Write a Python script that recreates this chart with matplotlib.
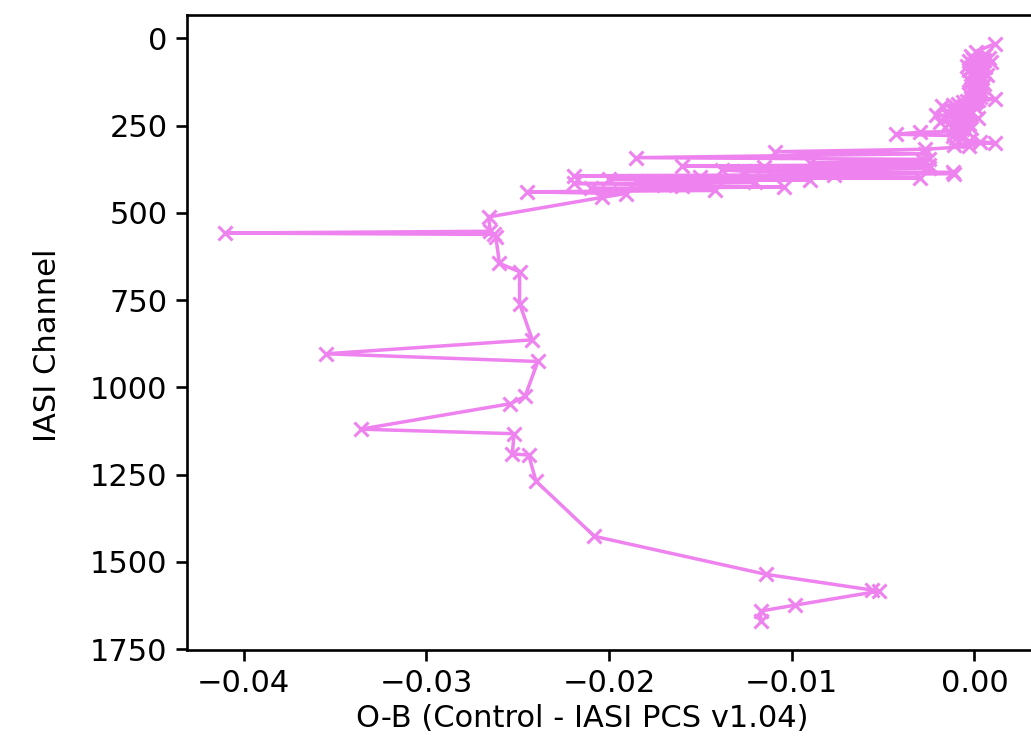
import matplotlib
matplotlib.use("Agg")
import matplotlib.pyplot as plt

# O-B departures per IASI channel
channels = [16, 38, 49, 51, 55, 57, 59, 61, 63, 66, 69, 72, 74, 79, 81, 83, 85, 87, 89, 92,
            95, 97, 99, 101, 104, 106, 109, 111, 113, 116, 119, 122, 126, 128, 131, 133, 135, 138,
            141, 144, 146, 148, 151, 154, 157, 159, 161, 163, 167, 170, 174, 176, 179, 180, 183,
            185, 187, 189, 191, 193, 195, 197, 199, 201, 203, 205, 207, 210, 212, 214, 217, 219,
            221, 224, 226, 228, 230, 232, 236, 239, 242, 243, 246, 249, 252, 254, 256, 258, 260,
            262, 265, 267, 269, 275, 279, 282, 285, 294, 296,
            300, 305, 310, 318, 325, 331, 342, 347, 352, 357, 362, 366, 369, 372, 377, 381, 384,
            388, 391, 394, 397, 400, 403, 406, 409, 413, 416, 420, 423, 426, 430, 436, 440, 445,
            456, 512, 553, 558, 562, 569, 645, 669, 760, 864, 904, 926, 1026, 1047, 1120, 1133,
            1191, 1194, 1269, 1427, 1536, 1581, 1584, 1624, 1641, 1670]
ob = [0.0011, 0.0001, 0.0006, -0.0002, 0.0004, 0.0008, -0.0001, 0.0003, 0.0005, -0.0003,
      0.0009, 0.0002, -0.0001, -0.0004, 0.0003, 0.0006, -0.0002, 0.0001, 0.0004, -0.0003,
      0.0002, 0.0005, 0.0000, -0.0002, 0.0003, 0.0007, 0.0001, -0.0001, 0.0004, 0.0002,
      -0.0003, 0.0001, -0.0002, 0.0003, 0.0005, 0.0000, -0.0001, 0.0002, 0.0004, -0.0002,
      0.0001, 0.0003, -0.0001, 0.0002, 0.0000, 0.0004, -0.0003, 0.0001, 0.0003, -0.0002,
      0.0011, 0.0002, -0.0004, 0.0001, -0.0006, 0.0000, -0.0009, -0.0003, -0.0012, -0.0018,
      -0.0005, -0.0010, 0.0001, -0.0007, -0.0013, -0.0004, -0.0009, -0.0002, -0.0011, -0.0006,
      -0.0015, -0.0008, -0.0021, -0.0004, -0.0010, 0.0002, -0.0007, -0.0012, -0.0005, -0.0019,
      -0.0009, -0.0014, -0.0003, -0.0008, -0.0012, -0.0006, -0.0010, -0.0002, -0.0007, -0.0011,
      -0.0004, -0.0009, -0.0030, -0.0043, -0.0012, -0.0006, -0.0010, -0.0003, 0.0003,
      0.0011, -0.0011, -0.0003, -0.0027, -0.0109, -0.0027, -0.0185, -0.0025, -0.0028, -0.0090,
      -0.0025, -0.0160, -0.0115, -0.0025, -0.0138, -0.0126, -0.0012, -0.0011, -0.0077, -0.0219,
      -0.0150, -0.0030, -0.0200, -0.0090, -0.0185, -0.0120, -0.0219, -0.0170, -0.0160, -0.0104,
      -0.0210, -0.0142, -0.0245, -0.0191, -0.0204, -0.0266, -0.0265, -0.0410, -0.0263, -0.0262,
      -0.0260, -0.0249, -0.0249, -0.0242, -0.0355, -0.0239, -0.0246, -0.0254, -0.0336, -0.0252,
      -0.0253, -0.0244, -0.0240, -0.0208, -0.0114, -0.0056, -0.0052, -0.0098, -0.0117, -0.0117]

plt.rcParams['font.size'] = 22

fig = plt.figure(figsize=(10.31, 7.45), dpi=100)
ax = fig.add_axes([187/1031, 95/745, 846/1031, 635/745])
ax.plot(ob, channels, color='violet', marker='x', linewidth=2.5,
        markersize=10, markeredgewidth=2.2)
ax.invert_yaxis()
ax.set_xlabel("O-B (Control - IASI PCS v1.04)")
ax.set_ylabel("IASI Channel")
ax.xaxis.set_label_coords(0.467, -0.085)
ax.yaxis.set_label_coords(-0.148, 0.48)
ax.tick_params(length=8, width=1.9, pad=6)
for s in ax.spines.values():
    s.set_linewidth(1.9)

fig.savefig("out.png", dpi=100)
